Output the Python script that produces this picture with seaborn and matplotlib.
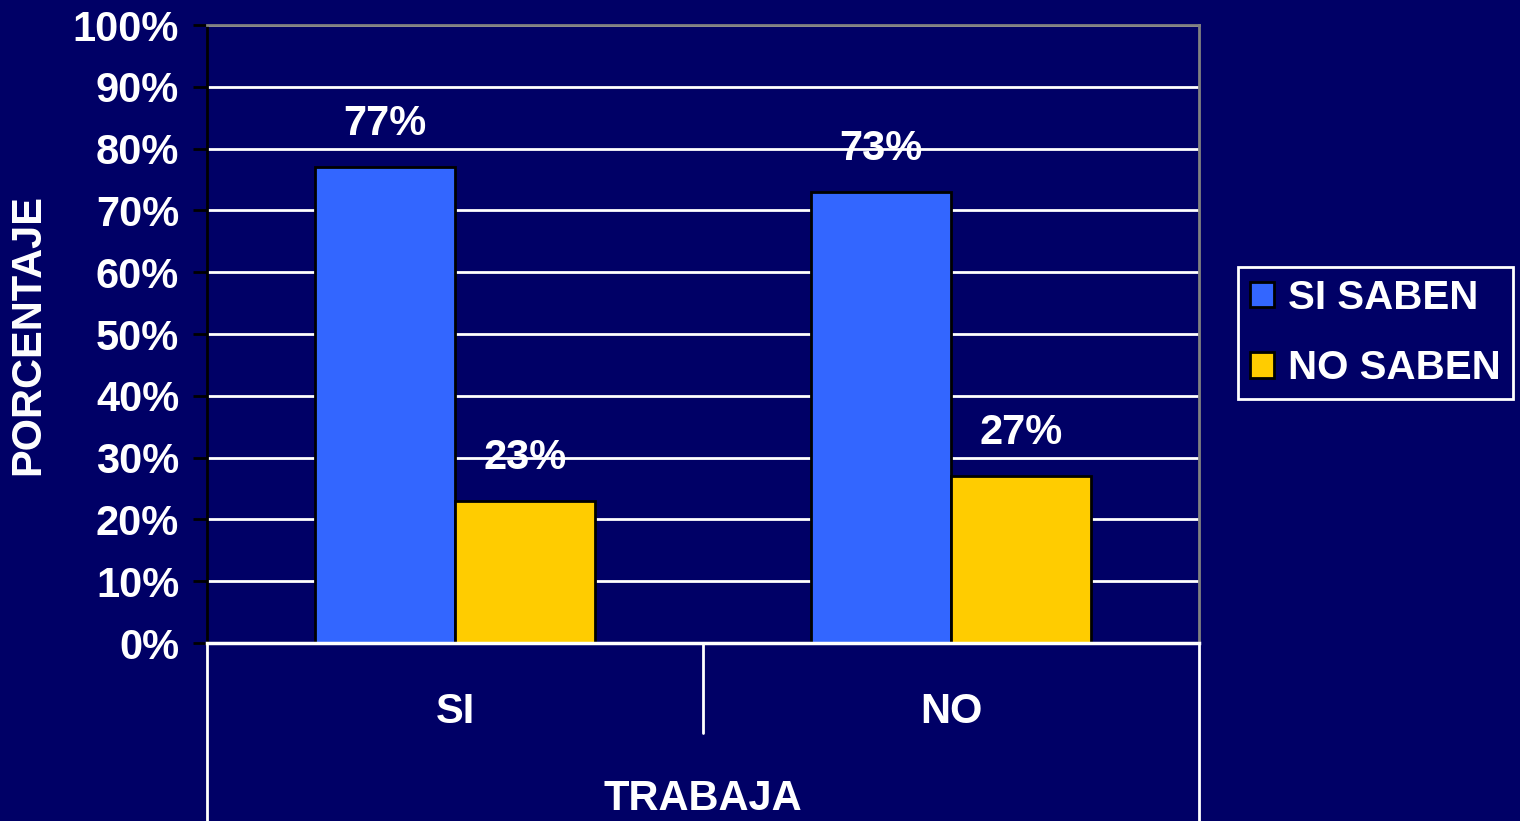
import seaborn as sns
import matplotlib.pyplot as plt
import pandas as pd
from matplotlib.patches import Patch

# chart values
categorias = ["SI", "NO"]
respuestas = ["SI SABEN", "NO SABEN"]
si_saben = [77, 73]
no_saben = [23, 27]
yticks = [0, 10, 20, 30, 40, 50, 60, 70, 80, 90, 100]

df = pd.DataFrame({
    "trabaja": categorias * 2,
    "respuesta": [respuestas[0]] * 2 + [respuestas[1]] * 2,
    "pct": si_saben + no_saben,
})

bg = "#000066"
colores = ["#3366FF", "#FFCC00"]
fs = 30

sns.set_style("white")
plt.rcParams["font.family"] = ["Liberation Sans", "DejaVu Sans"]
plt.rcParams["font.weight"] = "bold"

fig = plt.figure(figsize=(15.2, 8.21), dpi=100, facecolor=bg)
ax = fig.add_axes([207 / 1520, 1 - 643 / 821, 992 / 1520, 618 / 821])
ax.set_facecolor(bg)

sns.barplot(data=df, x="trabaja", y="pct", hue="respuesta", palette=colores,
            width=0.565, saturation=1, edgecolor="black", linewidth=2,
            ax=ax, legend=False)

# data labels
for cont in ax.containers:
    for bar in cont:
        h = bar.get_height()
        ax.annotate(f"{h:.0f}%", (bar.get_x() + bar.get_width() / 2, h),
                    xytext=(0, 31), textcoords="offset points",
                    ha="center", va="center", color="white",
                    fontsize=fs, fontweight="bold")

ax.set_ylim(0, 100)
ax.set_xlim(-0.5, 1.5)
ax.set_yticks(yticks)
ax.set_yticklabels([f"{v}%" for v in yticks])
ax.yaxis.grid(True, color="white", linewidth=2)
ax.set_axisbelow(True)

ax.tick_params(axis="y", colors="black", width=2, length=10, pad=10,
               labelcolor="white", labelsize=fs, left=True)
ax.tick_params(axis="x", length=0, pad=35, labelcolor="white", labelsize=fs)
for lbl in ax.get_yticklabels() + ax.get_xticklabels():
    lbl.set_fontweight("bold")

ax.set_ylabel("PORCENTAJE", color="white", fontsize=fs, fontweight="bold", labelpad=18)
ax.set_xlabel("TRABAJA", color="white", fontsize=fs, fontweight="bold", labelpad=34)

ax.spines["left"].set_color("black")
ax.spines["left"].set_linewidth(2)
ax.spines["top"].set_color("#808080")
ax.spines["right"].set_color("#808080")
ax.spines["top"].set_linewidth(2)
ax.spines["right"].set_linewidth(2)
ax.spines["bottom"].set_color("white")
ax.spines["bottom"].set_linewidth(2.5)

# table lines under the category axis
depth = -(821 - 643) / 618 - 0.05
ax.plot([0, 0], [0, depth], color="white", lw=2, transform=ax.transAxes, clip_on=False)
ax.plot([1, 1], [0, depth], color="white", lw=2, transform=ax.transAxes, clip_on=False)
ax.plot([0.5, 0.5], [0, -(733 - 643) / 618], color="white", lw=2,
        transform=ax.transAxes, clip_on=False)

handles = [Patch(facecolor=c, edgecolor="black", linewidth=2) for c in colores]
leg = fig.legend(handles, respuestas, loc="center left",
                 bbox_to_anchor=(1238 / 1520, 1 - 333 / 821),
                 frameon=True, fancybox=False, facecolor=bg, edgecolor="white",
                 framealpha=1, fontsize=29, handlelength=0.6, handleheight=0.6,
                 handletextpad=0.35, labelspacing=0.8, borderpad=0.3,
                 borderaxespad=0)
leg.get_frame().set_linewidth(2)
for t in leg.get_texts():
    t.set_color("white")
    t.set_fontweight("bold")

fig.savefig("out.png", dpi=100, facecolor=bg)
